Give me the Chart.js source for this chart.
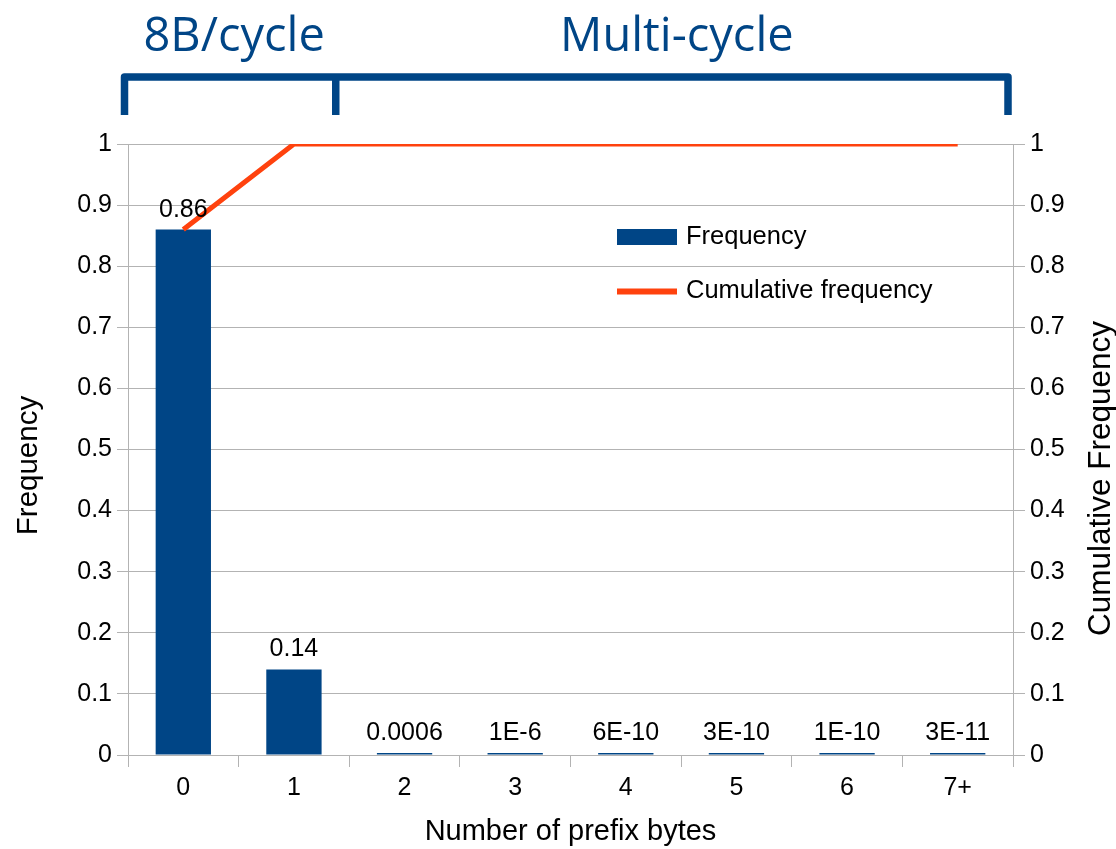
<!DOCTYPE html>
<html>
<head>
<meta charset="utf-8">
<script src="https://cdn.jsdelivr.net/npm/chart.js@4.4.1/dist/chart.umd.min.js"></script>
<style>
  html, body { margin: 0; padding: 0; background: #ffffff; }
  #wrap { width: 1116px; height: 849px; }
</style>
</head>
<body>
<div id="wrap"><canvas id="c" width="1116" height="849"></canvas></div>
<script>
// Prefix-byte count per instruction
const categories = ['0', '1', '2', '3', '4', '5', '6', '7+'];
const frequency = [0.86, 0.14, 0.0006, 1e-6, 6e-10, 3e-10, 1e-10, 3e-11];
const cumulative = [0.86, 1, 1, 1, 1, 1, 1, 1];
const yTicks = [0, 0.1, 0.2, 0.3, 0.4, 0.5, 0.6, 0.7, 0.8, 0.9, 1];

// Groups shown by the brackets above the plot: [label, first category, last category]
const groups = [['8B/cycle', 0, 1], ['Multi-cycle', 2, 7]];

const BLUE = '#004586';
const ORANGE = '#ff420e';
const GRID = '#b3b3b3';
const SANS = '"Liberation Sans", Arial, sans-serif';

function fmtValue(v) {
  return v >= 1e-4 ? String(v) : v.toExponential(0).toUpperCase();
}
function tickText(v) {
  return String(Math.round(v * 10) / 10);
}

// Value labels above each bar
const barLabels = {
  id: 'barLabels',
  afterDatasetsDraw(chart) {
    const ctx = chart.ctx;
    const meta = chart.getDatasetMeta(0);
    ctx.save();
    ctx.font = '25px ' + SANS;
    ctx.fillStyle = '#000';
    ctx.textAlign = 'center';
    ctx.textBaseline = 'alphabetic';
    meta.data.forEach((bar, i) => {
      ctx.fillText(fmtValue(frequency[i]), bar.x, bar.y - 13);
    });
    ctx.restore();
  }
};

// Legend drawn inside the plot area
const innerLegend = {
  id: 'innerLegend',
  afterDraw(chart) {
    const ctx = chart.ctx;
    const a = chart.chartArea;
    const x0 = a.left + 489;
    ctx.save();
    ctx.font = '25.5px ' + SANS;
    ctx.textAlign = 'left';
    ctx.textBaseline = 'middle';
    // bar entry
    ctx.fillStyle = BLUE;
    ctx.fillRect(x0, a.top + 85, 60, 16);
    ctx.fillStyle = '#000';
    ctx.fillText(chart.data.datasets[0].label, x0 + 69, a.top + 93);
    // line entry
    ctx.strokeStyle = ORANGE;
    ctx.lineWidth = 6;
    ctx.beginPath();
    ctx.moveTo(x0, a.top + 147.5);
    ctx.lineTo(x0 + 60, a.top + 147.5);
    ctx.stroke();
    ctx.fillText(chart.data.datasets[1].label, x0 + 69, a.top + 147);
    ctx.restore();
  }
};

// Both vertical axis titles read bottom-to-top
const axisTitles = {
  id: 'axisTitles',
  afterDraw(chart) {
    const ctx = chart.ctx;
    const a = chart.chartArea;
    const mid = (a.top + a.bottom) / 2;
    ctx.save();
    ctx.fillStyle = '#000';
    ctx.textAlign = 'center';
    ctx.textBaseline = 'middle';
    ctx.translate(29, mid + 16);
    ctx.rotate(-Math.PI / 2);
    ctx.font = '29.5px ' + SANS;
    ctx.fillText('Frequency', 0, 0);
    ctx.restore();
    ctx.save();
    ctx.fillStyle = '#000';
    ctx.textAlign = 'center';
    ctx.textBaseline = 'middle';
    ctx.translate(1101, mid + 29);
    ctx.rotate(-Math.PI / 2);
    ctx.font = '31.5px ' + SANS;
    ctx.fillText('Cumulative Frequency', 0, 0);
    ctx.restore();
  }
};

// Bracket and captions above the plot
const groupBrackets = {
  id: 'groupBrackets',
  afterDraw(chart) {
    const ctx = chart.ctx;
    const a = chart.chartArea;
    const xs = chart.scales.x;
    const half = (xs.getPixelForValue(1) - xs.getPixelForValue(0)) / 2;
    const left = a.left - 3.5;
    const right = a.right - 5;
    const split = xs.getPixelForValue(groups[1][1]) - half - 13.5;
    const yTop = a.top - 67;
    const yBot = a.top - 29;
    ctx.save();
    ctx.strokeStyle = BLUE;
    ctx.lineWidth = 7.5;
    ctx.lineJoin = 'round';
    ctx.lineCap = 'butt';
    ctx.beginPath();
    ctx.moveTo(left, yBot);
    ctx.lineTo(left, yTop);
    ctx.lineTo(right, yTop);
    ctx.lineTo(right, yBot);
    ctx.moveTo(split, yTop);
    ctx.lineTo(split, yBot);
    ctx.stroke();
    ctx.fillStyle = BLUE;
    ctx.font = '47px "Open Sans", "Noto Sans", sans-serif';
    ctx.textAlign = 'center';
    ctx.textBaseline = 'alphabetic';
    ctx.fillText(groups[0][0], (left + split) / 2 + 4, a.top - 93);
    ctx.fillText(groups[1][0], (split + right) / 2 + 5, a.top - 93);
    ctx.restore();
  }
};

new Chart(document.getElementById('c'), {
  data: {
    labels: categories,
    datasets: [
      {
        type: 'bar',
        label: 'Frequency',
        data: frequency,
        backgroundColor: BLUE,
        barPercentage: 0.5,
        categoryPercentage: 1.0,
        minBarLength: 2,
        yAxisID: 'y',
        order: 2
      },
      {
        type: 'line',
        label: 'Cumulative frequency',
        data: cumulative,
        borderColor: ORANGE,
        borderWidth: 5,
        pointRadius: 0,
        tension: 0,
        fill: false,
        yAxisID: 'y1',
        order: 1
      }
    ]
  },
  options: {
    responsive: false,
    animation: false,
    events: [],
    layout: { padding: { left: 11, right: 0, top: 144, bottom: 0 } },
    plugins: {
      legend: { display: false },
      tooltip: { enabled: false }
    },
    scales: {
      x: {
        type: 'category',
        offset: true,
        border: { display: true, color: GRID, width: 1 },
        grid: { offset: true, drawOnChartArea: false, drawTicks: true, tickLength: 12, color: GRID },
        ticks: { color: '#000', font: { family: SANS, size: 25 }, padding: 6, maxRotation: 0 },
        title: { display: true, text: 'Number of prefix bytes', color: '#000', font: { family: SANS, size: 29 }, padding: 0 },
        afterFit(s) { s.height = 94; }
      },
      y: {
        position: 'left',
        min: 0, max: 1,
        afterBuildTicks(s) { s.ticks = yTicks.map(v => ({ value: v })); },
        border: { display: true, color: GRID, width: 1 },
        grid: { color: GRID, tickLength: 11 },
        ticks: { color: '#000', font: { family: SANS, size: 25 }, padding: 5, callback: tickText },
        title: { display: false },
        afterFit(s) { s.width = 117; }
      },
      y1: {
        position: 'right',
        min: 0, max: 1,
        afterBuildTicks(s) { s.ticks = yTicks.map(v => ({ value: v })); },
        border: { display: true, color: GRID, width: 1 },
        grid: { drawOnChartArea: false, color: GRID, tickLength: 12 },
        ticks: { color: '#000', font: { family: SANS, size: 25 }, padding: 5, callback: tickText },
        title: { display: false },
        afterFit(s) { s.width = 103; }
      }
    }
  },
  plugins: [barLabels, innerLegend, axisTitles, groupBrackets]
});
</script>
</body>
</html>
